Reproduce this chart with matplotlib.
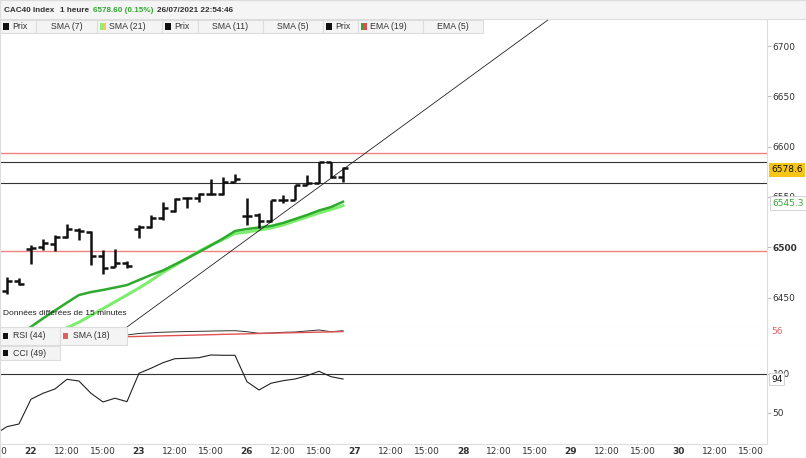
import matplotlib
matplotlib.use("Agg")
import matplotlib.pyplot as plt
from matplotlib.patches import Rectangle

# hourly bars, index 0 = 22/07 09:00 (9 bars per trading day)
bar_idx = list(range(-2, 27))
opens = [6456.6, 6466.6, 6498.0, 6500.6, 6503.0, 6510.5, 6517.2, 6515.5, 6491.4, 6480.7, 6484.7,
         6518.0, 6520.5, 6528.8, 6536.0, 6548.7, 6548.7, 6552.7, 6553.0, 6565.2,
         6531.0, 6532.0, 6526.5, 6547.0, 6547.0, 6562.0, 6564.2, 6585.0, 6570.2]
highs = [6470.5, 6469.2, 6502.3, 6508.0, 6512.2, 6523.2, 6518.9, 6516.2, 6497.3, 6498.0, 6486.7,
         6522.0, 6532.0, 6545.3, 6548.7, 6550.3, 6553.7, 6568.3, 6570.2, 6572.6,
         6548.7, 6533.8, 6547.0, 6552.0, 6562.0, 6571.8, 6585.0, 6585.0, 6579.5]
lows = [6453.6, 6462.5, 6483.5, 6497.3, 6496.3, 6509.5, 6507.3, 6482.5, 6473.2, 6480.7, 6479.1,
        6509.0, 6518.9, 6527.1, 6535.4, 6539.4, 6545.3, 6551.7, 6552.0, 6564.6,
        6522.0, 6518.9, 6525.4, 6544.3, 6547.0, 6562.0, 6563.6, 6568.7, 6565.2]
closes = [6466.5, 6463.3, 6499.0, 6504.6, 6510.5, 6518.2, 6516.2, 6491.4, 6479.1, 6484.7, 6481.4,
          6520.5, 6528.8, 6538.8, 6548.0, 6548.7, 6552.7, 6553.0, 6565.2, 6567.9,
          6531.0, 6526.5, 6547.0, 6547.0, 6562.0, 6564.2, 6585.0, 6569.6, 6578.6]

ema19 = [6405, 6413, 6421, 6429.3, 6437.2, 6445.0, 6452.6, 6455.5, 6457.6, 6460.0, 6462.5,
         6467.5, 6472.5, 6477.0, 6483.0, 6489.0, 6495.3, 6501.8, 6508.7, 6516.2,
         6518.2, 6519.7, 6521.2, 6524.2, 6528.1, 6532.1, 6536.6, 6540.0, 6545.3]
sma21 = [6390, 6397, 6403, 6408, 6414, 6420.0, 6425.5, 6432.3, 6439.0, 6445.8, 6452.6,
         6459.5, 6467.0, 6475.0, 6482.0, 6489.0, 6496.0, 6502.3, 6507.8, 6513.7,
         6515.2, 6517.2, 6519.2, 6522.2, 6526.2, 6530.1, 6534.1, 6537.6, 6541.4]

trend_x = [8, 43.2]
trend_y = [6420.8, 6727.0]
red_levels = [6594.0, 6496.6]
black_levels = [6585.1, 6563.6]

ind_idx = list(range(-3, 27))
rsi = [40, 42, 41, 47, 48, 49, 51, 50, 45, 43, 44, 47.8, 52, 54, 55.5, 56.5, 57.3, 58, 58.7,
       59.3, 59.7, 56.9, 52.5, 53.3, 55.3, 56.1, 58.9, 61.7, 56.9, 59.7]
rsi_sma = [24.5, 25.6, 26.7, 27.8, 29.2, 31.2, 33.2, 35.2, 37.2, 39.2, 41.1, 43.0, 43.8, 44.6,
           45.4, 46.2, 47.0, 47.8, 48.6, 49.5, 50.3, 51.1, 52.0, 52.8, 53.5, 54.2, 55.0, 55.7,
           56.4, 57.2]
cci = [22, 31.8, 35.3, 67.3, 75, 80.6, 93.1, 90.9, 75, 63.8, 68.6, 64.2, 100.9, 107.4, 114.6,
       119.8, 120.3, 121.1, 124.6, 124.2, 124.2, 90, 79.3, 88, 91.3, 93.5, 97.8, 103.5, 96.5, 93.5]

days = ['22', '23', '26', '27', '28', '29', '30']
price_ticks = [6450, 6500, 6550, 6600, 6650, 6700]

W, H = 806, 458
X_LEFT, X_RIGHT = -2.58, 61.33
GRAY = '#dddddd'
TXT = '#333333'
SANS = 'Liberation Sans'


def fx(px):
    return px / W


def fy(py):
    return 1 - py / H


def make_ax(top, bottom):
    a = fig.add_axes([0, fy(bottom), 767 / W, (bottom - top) / H])
    a.set_xlim(X_LEFT, X_RIGHT)
    for s in ['top', 'left']:
        a.spines[s].set_visible(False)
    for s in ['right', 'bottom']:
        a.spines[s].set_color(GRAY)
    a.yaxis.tick_right()
    a.tick_params(axis='y', length=3, color='#bbbbbb', labelsize=6.5, labelcolor=TXT, pad=1)
    a.tick_params(axis='x', length=0, labelbottom=False)
    return a


def box(x0, y0, x1, y1, fc='#f4f4f4', ec=GRAY, lw=0.8, z=2):
    fig.add_artist(Rectangle((fx(x0), fy(y1)), fx(x1) - fx(x0), (y1 - y0) / H,
                             transform=fig.transFigure, fc=fc, ec=ec, lw=lw, zorder=z))


fig = plt.figure(figsize=(W / 100, H / 100), dpi=100)

# main price panel
ax = make_ax(19, 327)
ax.set_ylim(6420.8, 6726.9)
ax.set_yticks(price_ticks, labels=[str(t) for t in price_ticks])
for lbl in ax.get_yticklabels():
    if lbl.get_text() == '6500':
        lbl.set_fontweight('bold')

for lv in red_levels:
    ax.axhline(lv, color='#f08080', lw=1.0, zorder=1)
for lv in black_levels:
    ax.axhline(lv, color='#333333', lw=0.8, zorder=1)

ax.plot(bar_idx, sma21, color='#7ded6d', lw=2.2, zorder=2)
ax.plot(bar_idx, ema19, color='#2eaa2e', lw=1.8, zorder=2)
ax.axline((trend_x[0], trend_y[0]), (trend_x[1], trend_y[1]), color='#222222', lw=0.6, zorder=2)

ax.vlines(bar_idx, lows, highs, color='#111111', lw=1.8, zorder=3)
ax.hlines(opens, [i - 0.4 for i in bar_idx], bar_idx, color='#111111', lw=1.8, zorder=3)
ax.hlines(closes, bar_idx, [i + 0.4 for i in bar_idx], color='#111111', lw=1.8, zorder=3)

ax.text(0.004, 0.038, 'Données différées de 15 minutes', transform=ax.transAxes,
        fontsize=6, color='#222222', family=SANS)

# RSI panel
ax_rsi = make_ax(327, 345)
ax_rsi.set_ylim(20, 70)
ax_rsi.set_yticks([])
ax_rsi.plot(ind_idx, rsi, color='#333333', lw=0.7)
ax_rsi.plot(ind_idx, rsi_sma, color='#e05050', lw=1.0)

# CCI panel
ax_cci = make_ax(345, 444)
ax_cci.set_ylim(9.4, 137.5)
ax_cci.set_yticks([50, 100], labels=['50', '100'])
ax_cci.axhline(100, color='#333333', lw=0.8)
ax_cci.plot(ind_idx, cci, color='#222222', lw=0.8)

xt, xl = [], []
for k, d in enumerate(days):
    xt += [9 * k, 9 * k + 3, 9 * k + 6]
    xl += [d, '12:00', '15:00']
ax_cci.set_xticks(xt, labels=xl)
ax_cci.tick_params(axis='x', labelbottom=True, labelsize=6.5, labelcolor=TXT, pad=2)
for lbl in ax_cci.get_xticklabels():
    if ':' not in lbl.get_text():
        lbl.set_fontweight('bold')
fig.text(fx(-5), fy(451), '15:00', fontsize=6.5, color=TXT, ha='center', va='center')

# header
box(0, 0, 806, 19, fc='#f5f5f5', ec=GRAY)
head = [(4, 'CAC40 Index', TXT), (60, '1 heure', TXT), (93, '6578.60 (0.15%)', '#33aa33'),
        (157, '26/07/2021 22:54:46', TXT)]
for hx, ht, hc in head:
    fig.text(fx(hx), fy(10.5), ht, fontsize=5.9, color=hc, weight='bold', va='center', family=SANS)

# indicator legend row
legend_cells = [(0, 36, 'Prix', ['#111111']), (36, 97, 'SMA (7)', None),
                (97, 162, 'SMA (21)', ['#90ee70', '#ffc060']), (162, 198, 'Prix', ['#111111']),
                (198, 263, 'SMA (11)', None), (263, 323, 'SMA (5)', None),
                (323, 358, 'Prix', ['#111111']), (358, 423, 'EMA (19)', ['#2eaa2e', '#e05050']),
                (423, 483, 'EMA (5)', None)]
for x0, x1, name, sw in legend_cells:
    box(x0, 20, x1, 33)
    if sw:
        n = len(sw)
        for j, c in enumerate(sw):
            box(x0 + 3 + j * 6 / n, 23, x0 + 3 + (j + 1) * 6 / n, 30, fc=c, ec='none', z=3)
        fig.text(fx(x0 + 12), fy(26.5), name, fontsize=6.3, color=TXT, va='center', family=SANS)
    else:
        fig.text(fx((x0 + x1) / 2), fy(26.5), name, fontsize=6.3, color=TXT, va='center',
                 ha='center', family=SANS)

# RSI / CCI legends
box(0, 327, 60, 345)
box(60, 327, 127, 345)
box(3, 333, 8, 339, fc='#111111', ec='none', z=3)
box(63, 333, 68, 339, fc='#e06060', ec='none', z=3)
fig.text(fx(13), fy(336), 'RSI (44)', fontsize=6.3, color=TXT, va='center', family=SANS)
fig.text(fx(73), fy(336), 'SMA (18)', fontsize=6.3, color=TXT, va='center', family=SANS)
box(0, 346, 60, 360)
box(3, 350, 8, 356, fc='#111111', ec='none', z=3)
fig.text(fx(13), fy(353), 'CCI (49)', fontsize=6.3, color=TXT, va='center', family=SANS)

# last value tags
fig.text(fx(771), fy(170), '6578.6', fontsize=6.5, color='#111111', va='center',
         bbox=dict(boxstyle='square,pad=0.25', fc='#f5c518', ec='none'))
fig.text(fx(772), fy(203), '6545.3', fontsize=6.5, color='#33aa33', va='center',
         bbox=dict(boxstyle='square,pad=0.25', fc='white', ec='#cccccc', lw=0.6))
fig.text(fx(771), fy(332), '56', fontsize=6.5, color='#e06060', va='center')
fig.text(fx(771), fy(379), '94', fontsize=6.5, color='#111111', va='center',
         bbox=dict(boxstyle='square,pad=0.2', fc='white', ec='#cccccc', lw=0.6))

box(0, 0, 806, 458, fc='none', ec=GRAY, z=5)

fig.savefig('out.png', dpi=100)
